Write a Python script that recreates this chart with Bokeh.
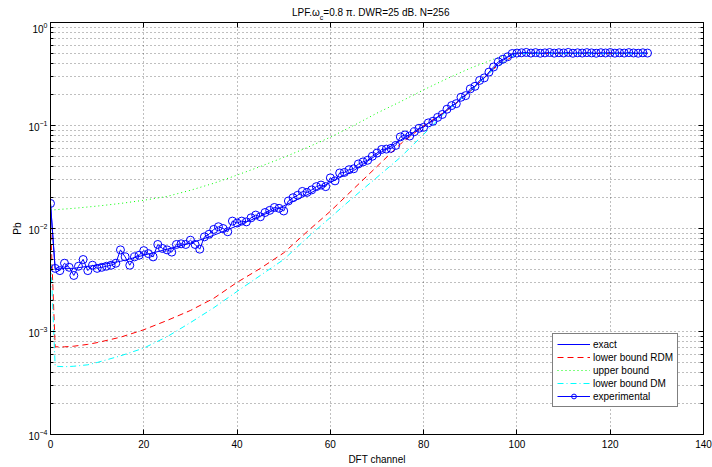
from bokeh.plotting import figure
from bokeh.layouts import column
from bokeh.models import (FixedTicker, LogAxis, LinearAxis, Legend, LegendItem,
                          Range1d, Div)
from bokeh.embed import file_html
from bokeh.resources import INLINE

# ---------------- data ----------------
channel = list(range(129))
experimental = [
    0.0175, 0.0041, 0.0039, 0.0046, 0.0042, 0.0035, 0.0043, 0.0050, 0.0039, 0.0044,
    0.0041, 0.0042, 0.0043, 0.0044, 0.0046, 0.0062, 0.0053, 0.0044, 0.0053, 0.0055,
    0.0061, 0.0057, 0.0053, 0.0070, 0.0064, 0.0062, 0.0059, 0.0070, 0.0071, 0.0070,
    0.0077, 0.0070, 0.0063, 0.0083, 0.0088, 0.0098, 0.0104, 0.0100, 0.0093, 0.0118,
    0.0113, 0.0118, 0.0116, 0.0127, 0.0135, 0.0130, 0.0143, 0.0150, 0.0160, 0.0157,
    0.0148, 0.0185, 0.0199, 0.0210, 0.0229, 0.0224, 0.0237, 0.0255, 0.0264, 0.0255,
    0.0310, 0.0290, 0.0346, 0.0350, 0.0372, 0.0380, 0.0423, 0.0443, 0.0460, 0.0503,
    0.0540, 0.0585, 0.0590, 0.0600, 0.0640, 0.0775, 0.0810, 0.0790, 0.0870, 0.0940,
    0.0960, 0.106, 0.110, 0.120, 0.128, 0.144, 0.156, 0.163, 0.188, 0.195,
    0.227, 0.240, 0.274, 0.290, 0.330, 0.370, 0.415, 0.440, 0.465, 0.500,
    0.505, 0.508, 0.512, 0.505, 0.510, 0.503, 0.507, 0.511, 0.504, 0.509,
    0.506, 0.512, 0.503, 0.508, 0.505, 0.510, 0.507, 0.503, 0.509, 0.506,
    0.511, 0.504, 0.508, 0.505, 0.510, 0.506, 0.503, 0.508, 0.505,
]

exact_x = [0, 1, 3, 5, 8, 10, 15, 20, 25, 30, 35, 40, 45, 50, 55, 60, 65, 70, 75, 80,
           85, 90, 92, 94, 96, 98, 99, 100, 128]
exact_y = [0.0175, 0.0040, 0.0041, 0.0041, 0.0043, 0.0044, 0.0048, 0.0055, 0.0063, 0.0072,
           0.0086, 0.0106, 0.0132, 0.0166, 0.0212, 0.0280, 0.0365, 0.052, 0.072, 0.098,
           0.140, 0.215, 0.265, 0.320, 0.400, 0.460, 0.490, 0.500, 0.500]

rdm_x = [0, 1, 3, 5, 8, 10, 15, 20, 25, 30, 35, 40, 45, 50, 55, 60, 65, 70, 75, 80,
         85, 90, 95, 100, 128]
rdm_y = [0.011, 0.00071, 0.00071, 0.00072, 0.00075, 0.00078, 0.00088, 0.00104, 0.00128, 0.0016,
         0.0021, 0.0030, 0.0041, 0.0058, 0.0093, 0.0147, 0.0243, 0.040, 0.066, 0.099,
         0.140, 0.215, 0.355, 0.500, 0.500]

dm_x = [0, 1, 3, 5, 8, 10, 15, 20, 25, 30, 35, 40, 45, 50, 55, 60, 65, 70, 75, 80,
        85, 90, 95, 100, 128]
dm_y = [0.006, 0.00046, 0.000455, 0.00046, 0.000475, 0.0005, 0.00058, 0.00069, 0.00089, 0.00122,
        0.0017, 0.00245, 0.0035, 0.0050, 0.0081, 0.0128, 0.0202, 0.0314, 0.049, 0.082,
        0.140, 0.215, 0.355, 0.500, 0.500]

upper_x = [0, 5, 10, 15, 20, 25, 30, 35, 40, 45, 50, 55, 60, 65, 70, 75, 80, 85, 90, 95,
           99, 128]
upper_y = [0.0151, 0.0157, 0.0165, 0.0175, 0.0188, 0.0205, 0.0235, 0.0275, 0.033, 0.040,
           0.049, 0.061, 0.077, 0.100, 0.132, 0.170, 0.222, 0.285, 0.36, 0.44,
           0.50, 0.50]

x_ticks = [0, 20, 40, 60, 80, 100, 120, 140]
y_ticks = [1e-4, 1e-3, 1e-2, 1e-1, 1.0]
y_minor = [m * d for d in [1e-4, 1e-3, 1e-2, 1e-1] for m in range(2, 10)]

FONT = "Liberation Sans"

# ---------------- title (HTML, with real subscript) ----------------
title = Div(
    text=('<div style="padding-left:292px;padding-top:7px;white-space:nowrap;'
          'line-height:12px;font-family:\'Liberation Sans\';font-size:10px;color:#000;">'
          'LPF.ω<span style="font-size:7px;vertical-align:-4px;line-height:0;">c</span>'
          '=0.8 π. DWR=25 dB. N=256</div>'),
    width=712, height=22, margin=0)

# ---------------- figure ----------------
p = figure(width=712, height=445, x_range=Range1d(0, 140), y_range=Range1d(1e-4, 1),
           y_axis_type="log", output_backend="svg", toolbar_location=None,
           min_border_left=50, min_border_right=9, min_border_top=0, min_border_bottom=33)
p.background_fill_color = "white"
p.border_fill_color = "white"
p.outline_line_color = "black"
p.outline_line_width = 1

xt = FixedTicker(ticks=x_ticks)
yt = FixedTicker(ticks=y_ticks, minor_ticks=y_minor)

p.xaxis.ticker = xt
p.yaxis.ticker = yt
for ax in (p.xaxis, p.yaxis):
    ax.axis_line_color = "black"
    ax.major_tick_line_color = "black"
    ax.major_tick_in = 5
    ax.major_tick_out = 0
    ax.minor_tick_in = 3
    ax.minor_tick_out = 0
    ax.major_label_text_font = FONT
    ax.major_label_text_font_size = "10px"
    ax.major_label_text_color = "black"
    ax.axis_label_text_font = FONT
    ax.axis_label_text_font_size = "10px"
    ax.axis_label_text_font_style = "normal"
    ax.axis_label_text_color = "black"
p.xaxis.major_label_standoff = 5
p.xaxis.axis_label_standoff = 3
p.yaxis.major_label_standoff = 3
p.yaxis.axis_label_standoff = 2
p.xaxis.axis_label = "DFT channel"
p.yaxis.axis_label = "Pb"

# mirrored ticks on top and right (labels not painted)
top_ax = LinearAxis(ticker=FixedTicker(ticks=x_ticks), major_tick_in=5, major_tick_out=0,
                    minor_tick_in=0, minor_tick_out=0, major_label_text_font_size="1px",
                    major_label_text_color=None, major_label_standoff=0,
                    axis_line_color="black")
right_ax = LogAxis(ticker=FixedTicker(ticks=y_ticks, minor_ticks=y_minor), major_tick_in=5,
                   major_tick_out=0, minor_tick_in=3, minor_tick_out=0,
                   major_label_text_font_size="1px", major_label_text_color=None,
                   major_label_standoff=0, axis_line_color="black")
p.add_layout(top_ax, "above")
p.add_layout(right_ax, "right")

# grid
p.xgrid.ticker = xt
p.ygrid.ticker = yt
for g in (p.xgrid, p.ygrid):
    g.grid_line_color = "black"
    g.grid_line_alpha = 0.5
    g.grid_line_dash = "1 3"
    g.grid_line_width = 1
p.ygrid.minor_grid_line_color = "black"
p.ygrid.minor_grid_line_alpha = 0.5
p.ygrid.minor_grid_line_dash = "1 3"

# ---------------- curves ----------------
r_exact = p.line(exact_x, exact_y, line_color="#0000ff", line_width=1)
r_rdm = p.line(rdm_x, rdm_y, line_color="#ff0000", line_width=1, line_dash="6 4")
r_up = p.line(upper_x, upper_y, line_color="#00ff00", line_width=1, line_dash="1 3")
r_dm = p.line(dm_x, dm_y, line_color="#00ffff", line_width=1, line_dash="6 3 1 3")
r_exp_l = p.line(channel, experimental, line_color="#0000ff", line_width=1)
r_exp_m = p.scatter(channel, experimental, marker="circle", size=8, fill_color=None,
                    line_color="#0000ff", line_width=1)

legend = Legend(items=[
    LegendItem(label="exact", renderers=[r_exact]),
    LegendItem(label="lower bound RDM", renderers=[r_rdm]),
    LegendItem(label="upper bound", renderers=[r_up]),
    LegendItem(label="lower bound DM", renderers=[r_dm]),
    LegendItem(label="experimental", renderers=[r_exp_l, r_exp_m]),
], location=(502, 27))
legend.label_text_font = FONT
legend.label_text_font_size = "10px"
legend.label_text_color = "black"
legend.glyph_width = 33
legend.glyph_height = 12
legend.label_height = 12
legend.label_standoff = 3
legend.spacing = 1
legend.padding = 4
legend.margin = 0
legend.border_line_color = "black"
legend.border_line_width = 1
legend.background_fill_color = "white"
legend.background_fill_alpha = 1
p.add_layout(legend, "center")

layout = column(title, p, spacing=0)
open("out.html", "w").write(file_html(layout, INLINE))
